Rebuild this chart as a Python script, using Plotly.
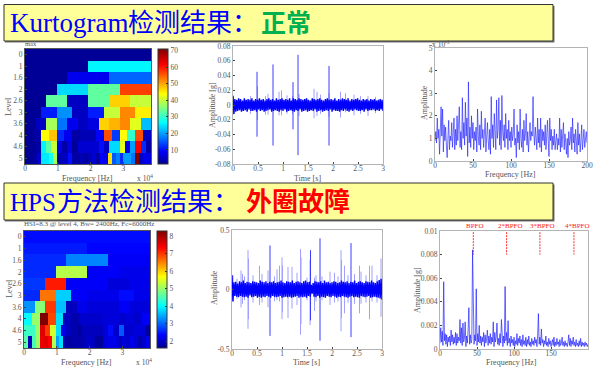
import numpy as np
import plotly.graph_objects as go

W, H = 593, 370
level_labels = ["0", "1", "1.6", "2", "2.6", "3", "3.6", "4", "4.6", "5"]

kurt_rows = [
    [2],
    [2, 26],
    [2, 8, 16],
    [2, 24, 33, 57],
    [2, 33, 5, 33, 47, 40],
    [2, 11, 19, 5, 11, 40, 52, 45],
    [2, 5, 38, 17, 8, 5, 7, 47, 49, 52, 42, 22],
    [2, 3, 44, 48, 12, 8, 3, 4, 4, 9, 56, 13, 44, 30, 56, 5],
    [2, 2, 3, 26, 33, 40, 8, 3, 7, 2, 6, 6, 6, 6, 10, 5, 24, 24, 42, 7, 20, 62, 12, 3],
    [2, 2, 3, 6, 25, 25, 28, 38, 3, 4, 5, 10, 3, 3, 4, 3, 4, 6, 3, 9, 8, 46, 15, 18, 12, 20, 20, 17, 71, 5, 8, 7],
]
hps_rows = [
    [2.4],
    [2.5, 2.35],
    [2.6, 3.2, 2.3],
    [2.6, 5.2, 2.3, 2.2],
    [2.7, 7.2, 2.3, 2.3, 2.1, 2.2],
    [2.6, 6.6, 3.7, 2.3, 2.2, 2.2, 2.4, 2.2],
    [3.3, 4.9, 7.0, 3.6, 1.9, 2.2, 2.1, 2.1, 2.1, 2.3, 2.1, 2.1],
    [4.0, 5.0, 8.3, 6.9, 3.8, 1.9, 1.8, 2.0, 2.0, 2.0, 2.1, 2.1, 2.0, 2.1, 2.0, 2.3],
    [4.4, 4.4, 5.0, 7.6, 7.0, 5.4, 3.8, 2.2, 1.9, 1.8, 1.7, 1.9, 1.9, 1.9, 1.9, 2.1, 2.4, 2.0, 2.9, 2.0, 2.0, 2.1, 2.1, 1.7],
    [4.6, 1.9, 4.5, 5.0, 7.5, 7.6, 7.4, 5.2, 3.4, 3.8, 1.8, 1.7, 1.8, 1.8, 1.8, 1.9, 2.0, 1.9, 1.7, 1.7, 2.1, 2.2, 2.2, 2.1, 1.9, 2.1, 2.0, 2.2, 2.1, 1.8, 2.0, 2.2],
]

# time signals, in thousandths of a g
band_b = [
    12, -12, 8, -9, 7, -8, 9, -7, 8, -9, 6, -8, 9, -7, 7, -9, 8, -6, 7, -8, 9, -8, 6, -7, 8, -9, 7, -6, 9, -8,
    7, -7, 8, -9, 6, -8, 8, -7, 9, -6, 7, -9, 8, -8, 6, -7, 9, -8, 7, -9, 8, -7, 9, -8, 7, -6, 8, -9, 7, -8,
    9, -7, 6, -8, 9, -9, 8, -7, 7, -8, 9, -6, 8, -9, 7, -8, 8, -7, 9, -9, 7, -8, 6, -7, 9, -8, 8, -6, 7, -9,
    8, -8, 9, -7, 7, -9, 6, -8, 8, -7, 9, -8, 7, -6, 8, -9, 7, -7, 9, -8, 6, -8, 8, -9, 7, -7, 9, -8, 8, -6,
    7, -8, 9, -9, 6, -7, 8, -8, 7, -6, 8, -7, 9, -8, 7, -8, 6, -7, 8, -9, 7, -6, 8, -8, 6, -7, 8, -7, 7, -6,
    8, -8, 6, -7, 7, -8, 8, -6, 7, -8,
]
band_e = [
    120, -100, 60, -55, 65, -60, 50, -65, 70, -55, 60, -60, 75, -65, 55, -60, 65, -70, 60, -50, 55, -65, 70, -60, 65, -55, 60, -70, 55, -60,
    75, -70, 65, -60, 60, -65, 70, -55, 55, -60, 65, -70, 60, -55, 70, -60, 55, -65, 60, -60, 65, -55, 75, -70, 60, -65, 55, -60, 70, -65,
    65, -60, 60, -70, 75, -65, 55, -60, 65, -55, 70, -70, 60, -60, 55, -65, 70, -60, 75, -70, 60, -55, 65, -60, 40, -35, 55, -60, 70, -65,
    65, -55, 60, -70, 70, -60, 55, -65, 75, -70, 60, -55, 65, -60, 55, -65, 60, -55, 70, -60, 65, -70, 55, -60, 60, -65, 75, -55, 65, -60,
    60, -65, 70, -70, 55, -60, 65, -55, 60, -65, 75, -60, 55, -65, 65, -70, 70, -55, 60, -60, 55, -65, 70, -60, 65, -55, 60, -70, 75, -65,
    60, -60, 55, -65, 70, -70, 80, -75, 90, -85,
]
# time, top, bottom of each impulse, in thousandths of a g
strong_b_t = [0.48, 0.80, 1.20, 1.30, 1.92]
strong_b_top = [45, 55, 31, 68, 53]
strong_b_bot = [-43, -55, -33, -68, -55]
faint_b_t = [0.01, 0.35, 0.49, 0.65, 0.70, 0.92, 0.97, 1.08, 1.19, 1.32, 1.62, 1.68, 1.75, 1.92, 2.15, 2.25, 2.42, 2.55, 2.70, 2.85]
faint_b_top = [13, 12, 25, 12, 15, 18, 20, 13, 12, 15, 22, 18, 14, 16, 18, 16, 14, 12, 12, 11]
faint_b_bot = [-13, -12, -20, -13, -13, -14, -14, -12, -12, -15, -18, -15, -12, -16, -17, -10, -14, -12, -15, -11]

strong_e_t = [0.76, 1.57, 1.76, 2.38]
strong_e_top = [370, 330, 430, 390]
strong_e_bot = [-390, -260, -430, -400]
faint_e_t = [0.02, 0.10, 0.18, 0.21, 0.25, 0.32, 0.33, 0.42, 0.55, 0.60, 0.72, 0.85, 0.90, 0.95, 1.00, 1.01, 1.12, 1.20, 1.30, 1.37, 1.38, 1.50, 1.56, 1.65, 1.68, 1.80, 1.96, 2.05, 2.12, 2.18, 2.19, 2.25, 2.32, 2.45, 2.55, 2.58, 2.68, 2.75, 2.80, 2.90, 2.98]
faint_e_top = [120, 90, 160, 130, 110, 330, 260, 120, 200, 130, 160, 110, 170, 200, 270, 200, 190, 190, 140, 340, 270, 100, 250, 100, 120, 110, 150, 140, 110, 330, 250, 200, 120, 130, 200, 150, 120, 200, 200, 120, 260]
faint_e_bot = [-100, -80, -150, -120, -90, -330, -250, -110, -130, -110, -150, -100, -90, -100, -250, -190, -240, -160, -130, -380, -290, -90, -300, -180, -100, -90, -130, -110, -100, -350, -240, -200, -110, -120, -200, -120, -110, -250, -100, -110, -230]

# spectra, thousandths
spec_c = [
    0.9, 1.3, 0.8, 1.9, 1.0, 1.4, 0.3, 2.1, 2.4, 1.1,
    2.3, 0.4, 1.6, 0.9, 1.5, 0.7, 0.15, 1.0, 1.8, 0.5,
    1.1, 0.9, 1.7, 0.6, 1.2, 1.9, 0.5, 1.4, 0.7, 2.0,
    0.9, 1.6, 2.4, 0.6, 1.3, 0.5, 2.8, 1.0, 1.7, 0.7,
    2.6, 1.1, 1.9, 0.2, 3.5, 0.8, 1.5, 0.6, 2.0, 1.0,
    1.7, 0.5, 1.3, 0.9, 1.5, 0.4, 2.3, 1.1, 0.7, 1.6,
    0.5, 2.2, 1.0, 1.4, 0.6, 1.2, 1.9, 0.4, 1.3, 1.7,
    0.9, 0.5, 1.4, 0.3, 2.85, 1.0, 1.6, 0.6, 2.1, 1.1,
    0.5, 2.7, 1.0, 1.4, 2.8, 0.7, 1.8, 0.5, 2.9, 1.3,
    0.9, 1.6, 0.6, 2.1, 1.0, 1.4, 0.5, 1.8, 0.9, 1.3,
    0.6, 1.5, 0.9, 1.2, 2.3, 0.7, 1.0, 0.15, 1.6, 0.8,
    1.3, 0.5, 2.3, 1.0, 0.6, 1.4, 0.4, 1.8, 0.9, 1.2,
    2.1, 0.7, 1.3, 0.4, 1.1, 1.7, 0.9, 1.3, 1.1, 2.85,
    1.2, 0.7, 1.5, 1.1, 0.5, 1.9, 0.8, 1.4, 0.6, 1.9,
    0.4, 1.4, 0.9, 1.3, 0.7, 1.6, 0.5, 1.1, 1.8, 0.9,
    0.2, 1.9, 0.9, 1.4, 0.5, 1.1, 0.7, 1.4, 0.5, 0.9,
    1.2, 0.5, 1.0, 0.7, 1.9, 0.4, 1.4, 0.6, 1.0, 1.7,
    0.5, 1.2, 0.8, 0.3, 1.0, 0.15, 1.3, 0.7, 0.9, 1.5,
    0.5, 1.9, 0.8, 1.2, 0.4, 1.4, 0.9, 0.3, 1.7, 0.7,
    1.2, 0.4, 0.9, 1.6, 0.5, 1.1, 1.4, 0.6, 1.0, 1.3, 0.8,
]
spec_f = [
    0.5, 1.8, 0.6, 1.5, 0.3, 5.7, 0.7, 1.3, 0.4, 1.2,
    0.2, 1.0, 0.6, 1.1, 0.3, 1.6, 0.6, 1.2, 0.4, 1.0,
    0.5, 1.4, 0.3, 1.3, 0.5, 1.0, 0.7, 2.5, 0.5, 1.8,
    0.3, 2.2, 0.6, 0.9, 2.3, 0.2, 1.1, 0.5, 1.6, 3.5,
    0.4, 1.2, 0.5, 0.8, 8.4, 5.0, 0.4, 1.2, 0.7, 5.1,
    0.3, 1.3, 0.6, 2.0, 0.5, 1.1, 0.3, 1.0, 0.6, 1.4,
    0.2, 1.2, 0.5, 0.9, 1.6, 0.3, 1.1, 0.5, 1.3, 0.4,
    1.0, 0.6, 2.3, 0.2, 1.4, 0.6, 1.0, 2.2, 0.4, 0.9,
    0.3, 1.3, 0.5, 2.5, 0.6, 0.2, 1.1, 0.5, 5.3, 0.7,
    1.4, 0.3, 2.4, 0.5, 0.9, 0.2, 1.1, 0.5, 0.8, 0.3,
    1.0, 0.2, 0.7, 0.4, 1.3, 0.3, 0.9, 0.5, 1.1, 0.3,
    0.8, 0.2, 1.2, 0.4, 0.7, 0.3, 1.0, 0.2, 0.8, 0.4,
    1.1, 0.3, 0.6, 0.2, 0.9, 0.4, 0.7, 0.3, 1.0, 0.5,
    0.8, 0.2, 1.2, 3.0, 0.4, 1.0, 0.3, 1.7, 0.5, 0.8,
    0.2, 0.7, 0.4, 1.1, 0.3, 0.6, 0.2, 0.9, 0.4, 0.7,
    0.2, 0.5, 0.8, 0.3, 1.0, 0.2, 0.6, 0.3, 0.9, 0.4,
    0.6, 0.2, 0.8, 0.3, 0.5, 1.0, 0.3, 0.6, 0.2, 0.7,
    0.3, 0.5, 0.2, 0.6, 1.2, 0.3, 0.9, 0.2, 0.7, 0.4,
    1.0, 0.3, 0.6, 0.2, 0.8, 0.3, 0.5, 0.2, 0.7, 0.3,
    0.9, 0.2, 0.6, 0.3, 0.5, 0.2, 0.6, 0.3, 0.5, 0.2, 0.4,
]
bpfo_freq = [45, 90, 135, 181]
bpfo_labels = ["BPFO", "2*BPFO", "3*BPFO", "4*BPFO"]
bpfo_label_px = [475, 510, 542, 577]

JET = [[0, "rgb(0,0,143)"], [0.11, "rgb(0,0,255)"], [0.36, "rgb(0,255,255)"],
       [0.61, "rgb(255,255,0)"], [0.86, "rgb(255,0,0)"], [1, "rgb(128,0,0)"]]
SERIF = "Liberation Serif"
CJK = "Liberation Serif, Noto Sans CJK SC"
TXT = "#555555"


def px(x):
    return x / W


def py(y):
    return 1 - y / H


def expand(rows, n=96):
    return np.array([np.repeat(r, n // len(r)) for r in rows], dtype=float)


def spikes(t, top, bot):
    xs, ys = [], []
    for a, b, c in zip(t, top, bot):
        xs += [a, a, None]
        ys += [b, c, None]
    return xs, ys


fig = go.Figure()
freq = (np.arange(96) + 0.5) / 96 * 38400


def axis_pair(n, box, xr, yr, xticks, yticks, xlab=None, ylab=None, frame="#B4B4B4"):
    l, t, r, b = box
    common = dict(showgrid=False, zeroline=False, showline=True, mirror=True, linecolor=frame, linewidth=1,
                  ticks="inside", ticklen=2, tickcolor="#444444", tickwidth=1,
                  tickfont=dict(family=SERIF, size=7.5, color=TXT))
    fig.layout[f"xaxis{n}"] = go.layout.XAxis(
        domain=[px(l), px(r)], range=xr, anchor=f"y{n}", tickvals=xticks, ticktext=xlab, automargin=False,
        ticklabelstandoff=-3, **common)
    fig.layout[f"yaxis{n}"] = go.layout.YAxis(
        domain=[py(b), py(t)], range=yr, anchor=f"x{n}", tickvals=yticks, ticktext=ylab, automargin=False, **common)


def heat(rows, n, zmin, zmax, cbx, cbticks, cbt, cbb):
    fig.add_trace(go.Heatmap(
        z=expand(rows), x=freq, y=list(range(10)), zmin=zmin, zmax=zmax, colorscale=JET,
        xaxis=f"x{n}", yaxis=f"y{n}", hoverinfo="skip",
        colorbar=dict(x=px(cbx), xanchor="left", xpad=0, ypad=0, thickness=10, thicknessmode="pixels",
                      y=py(cbb), yanchor="bottom", len=(cbb - cbt) / H, lenmode="fraction",
                      tickvals=cbticks, ticks="inside", ticklen=2, tickcolor="#333333",
                      tickfont=dict(family=SERIF, size=7.5, color=TXT),
                      outlinecolor="#333333", outlinewidth=1),
    ))


heat(kurt_rows, 1, 1.5, 71, 158, [10, 20, 30, 40, 50, 60, 70], 49, 164)
heat(hps_rows, 4, 1.6, 8.3, 157, [2, 3, 4, 5, 6, 7, 8], 231, 348)


def signal(band, st, stop, sbot, ft, ftop, fbot, n, scale=1e-3):
    t = np.linspace(0, 3, len(band))
    x, y = spikes(ft, ftop, fbot)
    fig.add_trace(go.Scatter(x=x, y=[None if v is None else v * scale for v in y], mode="lines",
                             line=dict(color="#A0A0FF", width=1), xaxis=f"x{n}", yaxis=f"y{n}", hoverinfo="skip"))
    x, y = spikes(st, stop, sbot)
    fig.add_trace(go.Scatter(x=x, y=[None if v is None else v * scale for v in y], mode="lines",
                             line=dict(color="#3C3CFF", width=1), xaxis=f"x{n}", yaxis=f"y{n}", hoverinfo="skip"))
    fig.add_trace(go.Scatter(x=t, y=np.array(band) * scale, mode="lines",
                             line=dict(color="#0000FF", width=1.4), xaxis=f"x{n}", yaxis=f"y{n}", hoverinfo="skip"))


signal(band_b, strong_b_t, strong_b_top, strong_b_bot, faint_b_t, faint_b_top, faint_b_bot, 2)
signal(band_e, strong_e_t, strong_e_top, strong_e_bot, faint_e_t, faint_e_top, faint_e_bot, 5)

fig.add_trace(go.Scatter(x=np.linspace(0, 200, len(spec_c)), y=spec_c, mode="lines",
                         line=dict(color="rgba(30,30,255,0.7)", width=0.9), xaxis="x3", yaxis="y3", hoverinfo="skip"))
fig.add_trace(go.Scatter(x=np.linspace(0, 200, len(spec_f)), y=np.array(spec_f) * 1e-3, mode="lines",
                         line=dict(color="rgba(30,30,255,0.75)", width=0.9), xaxis="x6", yaxis="y6", hoverinfo="skip"))
x_mark, y_mark = [], []
for f in bpfo_freq:
    x_mark += [f, f, None]
    y_mark += [0.0099, 0.008, None]
fig.add_trace(go.Scatter(x=x_mark, y=y_mark, mode="lines", line=dict(color="#FF3030", width=1, dash="2px,1px"),
                         xaxis="x6", yaxis="y6", hoverinfo="skip"))

lv = list(range(10))
axis_pair(1, (25, 49, 151, 164), [0, 38400], [9.5, -0.5], [0, 1e4, 2e4, 3e4], lv,
          ["0", "1", "2", "3"], level_labels, frame="#555555")
axis_pair(2, (233, 46, 383, 164), [0, 3], [-0.08, 0.08], [0, 0.5, 1, 1.5, 2, 2.5, 3],
          [-0.08, -0.06, -0.04, -0.02, 0, 0.02, 0.04, 0.06, 0.08],
          ["0", "0.5", "1", "1.5", "2", "2.5", "3"], ["-0.08", "-0.06", "-0.04", "-0.02", "0", "0.02", "0.04", "0.06", "0.08"])
axis_pair(3, (435, 48, 587, 161), [0, 200], [0, 5], [0, 50, 100, 150, 200], [0, 1, 2, 3, 4, 5])
axis_pair(4, (24, 231, 150, 348), [0, 38400], [9.5, -0.5], [0, 1e4, 2e4, 3e4], lv,
          ["0", "1", "2", "3"], level_labels, frame="#555555")
axis_pair(5, (232, 230, 382, 349), [0, 3], [-0.5, 0.5], [0, 0.5, 1, 1.5, 2, 2.5, 3], [-0.5, 0, 0.5],
          ["0", "0.5", "1", "1.5", "2", "2.5", "3"], ["-0.5", "0", "0.5"])
axis_pair(6, (440, 231, 588, 349), [0, 200], [0, 0.01], [0, 50, 100, 150, 200],
          [0, 0.002, 0.004, 0.006, 0.008, 0.01], None, ["0", "0.002", "0.004", "0.006", "0.008", "0.01"])

shapes = []
for top, bot in [(4.5, 41), (183, 220)]:
    shapes.append(dict(type="rect", xref="paper", yref="paper", x0=px(5), x1=px(554.5), y0=py(bot + 1.5), y1=py(top + 1.5),
                       fillcolor="#777777", line=dict(width=0), layer="below"))
    shapes.append(dict(type="rect", xref="paper", yref="paper", x0=px(4), x1=px(553), y0=py(bot), y1=py(top),
                       fillcolor="#FFFF99", line=dict(color="#333333", width=1), layer="below"))


def note(text, x, y, size, color, family=SERIF, xanchor="left", angle=0):
    return dict(text=text, x=px(x), y=py(y), xref="paper", yref="paper", xanchor=xanchor, yanchor="middle",
                showarrow=False, font=dict(family=family, size=size, color=color), borderpad=0, borderwidth=0,
                textangle=angle)


notes = [
    note("Kurtogram", 10, 23, 27, "#0000FF"),
    note("检测结果：", 128, 23, 26, "#0000FF", CJK),
    note("<b>正常</b>", 261, 23, 25, "#00B050", CJK),
    note("HPS", 10, 203, 25, "#0000FF"),
    note("方法检测结果：", 57, 203, 26, "#0000FF", CJK),
    note("<b>外圈故障</b>", 246, 203, 26, "#FF0000", CJK),
    note("max", 25, 43, 6.5, TXT),
    note("HSI=8.3 @ level 4, Bw= 2400Hz, Fc=6000Hz", 24, 224, 7, TXT),
    note("x 10<sup>4</sup>", 137, 178, 7.5, TXT),
    note("x 10<sup>4</sup>", 136, 362, 7.5, TXT),
    note("x 10<sup>-3</sup>", 432, 44, 7.5, TXT),
]
for text, x, y in [("Frequency [Hz]", 87, 178), ("Time [s]", 307, 178), ("Frequency [Hz]", 510, 174),
                   ("Frequency [Hz]", 86, 362), ("Time [s]", 306, 362), ("Frequency [Hz]", 511, 362)]:
    notes.append(note(text, x, y, 8, TXT, xanchor="center"))
for text, x, y in [("Level", 9, 107), ("Amplitude [g]", 212, 105), ("Amplitude", 424, 103),
                   ("Level", 9, 289), ("Amplitude", 214, 288), ("Amplitude [g]", 417, 290)]:
    notes.append(note(text, x, y, 8, TXT, xanchor="center", angle=-90))
for lab, xp in zip(bpfo_labels, bpfo_label_px):
    notes.append(note(lab, xp, 226, 7, "#FF2020", xanchor="center"))

fig.update_layout(width=W, height=H, margin=dict(l=0, r=0, t=0, b=0), paper_bgcolor="white", plot_bgcolor="white",
                  showlegend=False, shapes=shapes, annotations=notes)

fig.write_html("out.html", config={"displayModeBar": False},
               post_script="document.body.style.margin='0';document.documentElement.style.overflow='hidden';window.dispatchEvent(new Event('resize'));")
